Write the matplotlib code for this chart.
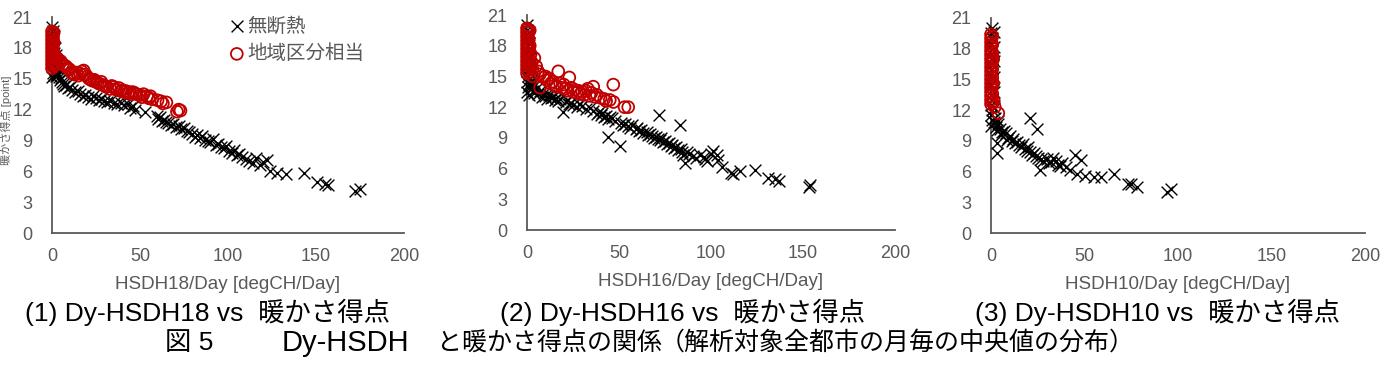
import matplotlib
matplotlib.use('Agg')
from matplotlib import pyplot as plt

plt.rcParams['font.family'] = ['Liberation Sans', 'Noto Sans CJK JP', 'DejaVu Sans']

# (x, y) pairs: HSDH/Day vs warmth score
black18 = [
    (0, 15.2), (0, 16.5), (0, 17.8), (0, 19.0), (0, 20.0), (0.5, 15.6), (0.5, 17.0), (0.5, 18.4), (0.5, 19.6),
    (1, 15.4), (1, 16.2), (1, 17.5), (1, 19.2), (1.5, 15.8), (1.5, 16.8), (1.5, 18.0), (2, 15.3), (2, 16.4),
    (2, 17.3), (2.5, 15.7), (2.5, 16.6), (3, 15.5), (3, 16.0),
    (3.5, 15.4), (4, 15.2), (4.5, 14.9), (5, 15.1), (5.5, 14.7), (6, 14.5), (7, 14.3), (8, 14.4), (9, 14.1),
    (10, 14.2), (11.5, 13.9), (13, 13.7), (14.5, 13.8), (16, 13.5), (17.5, 13.3), (19, 13.4), (20.5, 13.2),
    (22, 13.0), (23.5, 13.3), (25, 13.1), (26.5, 12.9), (28, 13.0), (29.5, 12.8), (31, 12.7), (33, 12.8),
    (35, 12.6), (37, 12.5), (39, 12.6), (41, 12.4), (43, 12.5), (44.5, 12.2), (46, 12.3), (47, 12.0),
    (53, 11.8), (59.5, 11.4), (60.5, 11.1), (61.5, 11.3), (62.5, 10.9), (63.5, 11.0), (64.5, 10.8), (66, 10.7),
    (67.5, 10.5), (69, 10.6), (70.5, 10.3), (72, 10.4), (73.5, 10.1), (75, 10.2), (76.5, 9.9), (78, 9.8),
    (79.5, 9.6), (81, 9.3), (82.5, 9.5), (84, 9.2), (85.5, 9.4), (87, 9.0), (88.5, 8.9), (90, 8.8), (91.5, 9.1),
    (93, 8.6), (94.5, 8.7), (96, 8.4), (97.5, 8.3), (99, 8.5), (100.5, 8.0), (102, 7.8), (103.5, 8.1),
    (105, 7.6), (106.5, 7.7), (108, 7.4), (110, 7.2), (112, 7.0), (114, 6.8), (116, 7.3), (118, 6.6),
    (120, 6.9), (122, 7.1), (124, 6.0), (128, 5.8), (133, 5.7), (143, 5.8), (150.5, 5.0), (155, 4.8),
    (157, 4.7), (172, 4.1), (175, 4.3),
]
red18 = [
    (0, 19.6), (0, 19.2), (0, 18.8), (0, 18.4), (0, 18.0), (0, 17.6), (0, 17.2), (0, 16.8), (0, 16.4), (0, 16.0),
    (0.5, 19.4), (0.5, 19.0), (0.5, 18.6), (0.5, 18.2), (0.5, 17.8), (0.5, 17.4), (0.5, 17.0), (0.5, 16.6),
    (0.5, 16.2), (1, 19.5), (1, 18.5), (1, 17.5), (1, 16.5), (1.5, 17.2), (1.5, 16.3), (2, 17.0), (2, 16.6),
    (3, 17.0), (4, 16.8), (5, 16.7), (6, 16.4), (7, 16.3), (8, 16.2), (9, 16.0), (10, 15.9), (11, 15.6),
    (12, 15.5), (13, 15.4), (14, 15.6), (15, 15.3), (16, 15.5), (17, 15.7), (18, 15.8), (19, 15.4), (20, 15.2),
    (21, 15.0), (22, 14.9), (23, 14.8), (24, 14.9), (25, 14.7), (26, 14.6), (27, 14.5), (28, 14.7), (29, 14.4),
    (30, 14.3), (31, 14.2), (33, 14.0), (34, 14.3), (35, 14.2), (36, 14.0), (37, 13.9), (38, 14.1), (39, 13.8),
    (40, 13.9), (41, 13.7), (42, 13.8), (43, 13.6), (44, 13.7), (45, 13.5), (46, 13.7), (47, 13.6), (48, 13.5),
    (50, 13.4), (51, 13.2), (52, 13.5), (54, 13.3), (55, 13.1), (56, 13.3), (57, 13.0), (60, 12.9), (62, 12.8),
    (63, 12.6), (65, 12.7), (71, 11.8), (72, 12.0), (73, 11.9),
]
black16 = [
    (0, 13.5), (0, 14.5), (0, 15.5), (0, 16.5), (0, 17.5), (0, 18.5), (0, 19.5), (0, 20.0), (0.5, 14.0),
    (0.5, 15.0), (0.5, 16.0), (0.5, 17.0), (0.5, 18.0), (0.5, 19.0), (1, 13.2), (1, 14.3), (1, 15.3), (1, 16.3),
    (1, 17.3), (1, 18.3), (1, 19.3), (1.5, 14.8), (1.5, 15.8), (1.5, 16.8), (2, 13.8), (2, 14.6), (2, 15.6),
    (2.5, 14.2), (3, 13.6), (3, 14.5), (4, 13.4), (4, 14.1),
    (5, 13.8), (6, 13.3), (7, 13.6), (8, 13.0), (9, 13.4), (10, 13.1), (11, 12.8), (12, 13.2), (13, 12.9),
    (14, 13.0), (15, 12.7), (16, 12.9), (17, 12.6), (18, 12.8), (19.8, 11.5), (21, 12.5), (22, 12.7), (23, 12.3),
    (24, 12.4), (25, 12.2), (27, 12.0), (28, 12.3), (30, 12.1), (32, 11.8), (34, 11.9), (36, 11.6), (38, 11.3),
    (39, 11.5), (40, 11.2), (41, 11.4), (42, 11.0), (43, 11.1), (44, 10.8), (44.2, 9.1), (45, 11.0), (46, 10.9),
    (48, 10.6), (50.5, 8.2), (51, 10.5), (52, 10.3), (53, 10.4), (55, 10.2), (56, 10.0), (57, 10.3), (59, 9.9),
    (60, 10.0), (61, 9.7), (62, 9.8), (63, 9.5), (65, 9.6), (66, 9.3), (67, 9.4), (68, 9.2), (69, 9.0),
    (70, 9.1), (71, 8.9), (72, 11.2), (72.5, 8.8), (73, 9.0), (74, 8.6), (75, 8.7), (76, 8.4), (77, 8.5),
    (78, 8.2), (79, 8.3), (80, 8.0), (81, 8.1), (82, 7.8), (83, 10.3), (83.5, 7.9), (84, 7.6), (85, 7.3),
    (86, 6.5), (87, 7.6), (88, 7.4), (90, 7.2), (92, 7.0), (94, 7.3), (96, 7.1), (97, 6.9), (98, 6.7),
    (100, 7.4), (101, 7.7), (103, 7.3), (104, 6.8), (106, 6.2), (111, 5.6), (112, 5.5), (116, 5.8), (124, 5.9),
    (131, 5.1), (135, 5.0), (137, 4.8), (153, 4.2), (154, 4.4),
]
red16 = [
    (0, 19.7), (0, 19.3), (0, 18.9), (0, 18.5), (0, 18.1), (0, 17.7), (0, 17.3), (0, 16.9), (0, 16.5), (0, 16.1),
    (0, 15.7), (0, 15.3), (0.5, 19.6), (0.5, 18.8), (0.5, 18.0), (0.5, 17.2), (0.5, 16.4), (0.5, 15.6),
    (1, 19.4), (1, 18.6), (1, 17.8), (1, 17.0), (1, 16.2), (1, 15.4), (1.5, 19.5), (1.5, 18.0), (1.5, 16.5),
    (2, 17.2), (2, 15.9), (2.5, 16.4), (3, 15.7), (3, 15.0),
    (4, 16.8), (5, 16.0), (6, 15.5), (7, 15.2), (7.1, 13.9), (9, 14.9), (10, 15.0), (11, 14.6), (12, 14.8),
    (13, 14.3), (14, 14.5), (15, 14.1), (16, 14.0), (17, 15.5), (18, 14.3), (19, 13.9), (20, 14.2), (21, 13.8),
    (22, 13.6), (23, 14.9), (24, 13.9), (25, 13.5), (26, 13.7), (27, 13.4), (28, 13.6), (29, 13.3), (30, 13.5),
    (31, 13.2), (32, 13.6), (33, 13.8), (34, 13.1), (35, 13.4), (36, 14.0), (37, 13.0), (38, 13.2), (40, 12.9),
    (42, 12.8), (43, 12.6), (45, 12.7), (46.9, 14.2), (47, 12.5), (53, 12.0), (55, 12.0),
]
black10 = [
    (0, 10.5), (0, 11.5), (0, 12.5), (0, 13.5), (0, 14.5), (0, 15.5), (0, 16.5), (0, 17.5), (0, 18.5), (0, 19.5),
    (0.8, 11.0), (0.8, 12.0), (0.8, 13.0), (0.8, 14.0), (0.8, 15.0), (0.8, 16.0), (0.8, 17.0), (0.8, 18.0),
    (0.8, 19.0), (0.8, 20.0), (1.5, 10.8), (1.5, 12.2), (1.5, 13.8), (1.5, 15.2), (1.5, 16.8), (1.5, 18.2),
    (1.5, 19.6),
    (2, 11.2), (2.5, 10.4), (3, 8.8), (3, 7.8), (3, 10.1), (3.5, 10.9), (4, 10.6), (5, 10.2), (5.5, 9.6),
    (6, 9.9), (7, 10.0), (8, 9.8), (8.4, 9.1), (9, 9.3), (10, 9.5), (11, 9.0), (12, 9.2), (13, 8.8), (14, 8.9),
    (15, 8.6), (16, 8.4), (17, 8.7), (18, 8.2), (19, 8.0), (20, 8.4), (20.8, 11.2), (21, 7.9), (22, 7.6),
    (23, 7.8), (24, 7.5), (24.4, 10.2), (25, 7.3), (26, 6.2), (27, 7.2), (28, 7.0), (30, 7.2), (31, 6.8),
    (32, 6.9), (33, 7.3), (35, 7.0), (36, 6.6), (37, 6.5), (38, 6.8), (40, 6.4), (42, 6.2), (45, 7.6),
    (46, 5.8), (48, 7.1), (50, 5.6), (55, 5.5), (59, 5.5), (66, 5.8), (73, 4.8), (75, 4.8), (78, 4.5),
    (94, 4.0), (96, 4.3),
]
red10 = [
    (0, 19.4), (0, 19.0), (0, 18.6), (0, 18.2), (0, 17.8), (0, 17.4), (0, 17.0), (0, 16.6), (0, 16.2), (0, 15.8),
    (0, 15.4), (0, 15.0), (0, 14.6), (0, 14.2), (0, 13.8), (0, 13.4), (0, 13.0), (0, 12.6), (0.7, 19.2),
    (0.7, 18.4), (0.7, 17.6), (0.7, 16.8), (0.7, 16.0), (0.7, 15.2), (0.7, 14.4), (0.7, 13.6), (0.7, 12.8),
    (1.2, 17.0), (1.2, 14.6), (1.5, 12.9), (2, 12.3), (3.9, 11.7),
]

panels = [
    (black18, red18, 'HSDH18/Day [degCH/Day]', '(1) Dy-HSDH18 vs  暖かさ得点', [52, 17, 404, 233], 25),
    (black16, red16, 'HSDH16/Day [degCH/Day]', '(2) Dy-HSDH16 vs  暖かさ得点', [527, 15, 895, 230], 500),
    (black10, red10, 'HSDH10/Day [degCH/Day]', '(3) Dy-HSDH10 vs  暖かさ得点', [991, 18, 1365, 233], 975),
]
legend_labels = ['無断熱', '地域区分相当']
W, H = 1384, 367
gray = '#595959'
red = '#C00000'

fig = plt.figure(figsize=(W / 100, H / 100), dpi=100)

for i, (blk, rd, xlabel, sub, (l, t, r, b), subx) in enumerate(panels):
    ax = fig.add_axes([l / W, 1 - b / H, (r - l) / W, (b - t) / H])
    bx, by = zip(*blk)
    rx, ry = zip(*rd)
    s1 = ax.scatter(bx, by, marker='x', s=72, color='black', linewidths=1.0, clip_on=False, zorder=3)
    s2 = ax.scatter(rx, ry, marker='o', s=72, facecolors='none', edgecolors=red, linewidths=1.3,
                    clip_on=False, zorder=4)
    ax.set_xlim(0, 200)
    ax.set_ylim(0, 21)
    ax.set_xticks([0, 50, 100, 150, 200])
    ax.set_yticks(range(0, 22, 3))
    for sp in ['top', 'right']:
        ax.spines[sp].set_visible(False)
    for sp in ['left', 'bottom']:
        ax.spines[sp].set_color(gray)
        ax.spines[sp].set_linewidth(1.3)
    ax.tick_params(axis='both', length=0, labelsize=13, colors=gray)
    ax.tick_params(axis='y', pad=14)
    ax.tick_params(axis='x', pad=11)
    ax.set_xlabel(xlabel, fontsize=13.5, color=gray, labelpad=8)
    fig.text(subx / W, 1 - 312 / H, sub, fontsize=19, ha='left', va='center', color='black')
    if i == 0:
        ax.legend([s1, s2], legend_labels, loc='upper left', bbox_to_anchor=(230 / W, 1 - 17 / H),
                  bbox_transform=fig.transFigure, frameon=False, fontsize=14, labelcolor=gray,
                  handlelength=0.7, handletextpad=0.2, borderpad=0, borderaxespad=0,
                  labelspacing=0.45, scatterpoints=1)

# y label of the first panel, squeezed against the left edge
fig.text(1 / W, 1 - 120 / H, '暖かさ得点 [point]', rotation=90, fontsize=8, color=gray,
         ha='left', va='center')

# figure caption
cy = 1 - 343 / H
fig.text(165 / W, cy, '図 5', fontsize=19, ha='left', va='center')
fig.text(345 / W, cy, 'Dy-HSDH', fontsize=21, ha='center', va='center')
fig.text(437 / W, cy, 'と暖かさ得点の関係', fontsize=18, ha='left', va='center')
fig.text(660 / W, cy, '（解析対象全都市の月毎の中央値の分布）', fontsize=18, ha='left', va='center')

fig.savefig('out.png', dpi=100)
